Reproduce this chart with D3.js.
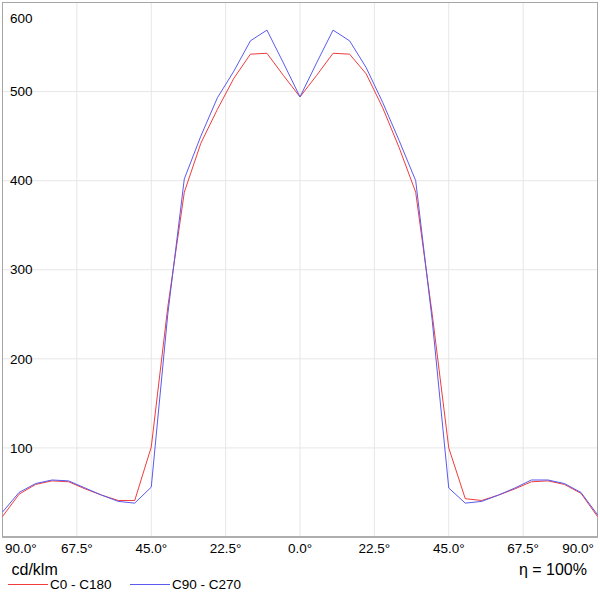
<!DOCTYPE html>
<html>
<head>
<meta charset="utf-8">
<script src="https://cdn.jsdelivr.net/npm/d3@7"></script>
<style>
  html, body { margin: 0; padding: 0; background: #fff; }
  svg { display: block; font-family: "Liberation Sans", Arial, sans-serif; }
</style>
</head>
<body>
<svg id="chart" width="600" height="600"></svg>
<script>
// Angles as displayed from left (90° side) to right (90° side)
const angles = [-90,-85,-80,-75,-70,-65,-60,-55,-50,-45,-40,-35,-30,-25,-20,-15,-10,-5,0,5,10,15,20,25,30,35,40,45,50,55,60,65,70,75,80,85,90];
const c0c180 = [23,48,59,63,62,54,47,41,41,101,258,387,442,480,515,542,543,518,494,518,543,542,520,482,437,387,250,100,43,41,47,54,62,63,59,49,23];
const c90c270 = [28,50,60,64,63,55,47,40,38,56,250,402,450,493,523,557,569,532,494,532,569,557,527,488,445,400,243,55,38,40,47,55,64,64,60,50,25];
const xTicks = [-90,-67.5,-45,-22.5,0,22.5,45,67.5,90];
const xTickLabels = ["90.0°","67.5°","45.0°","22.5°","0.0°","22.5°","45.0°","67.5°","90.0°"];
const yTicks = [100,200,300,400,500,600];
const yTickLabels = ["100","200","300","400","500","600"];
const seriesNames = ["C0 - C180","C90 - C270"];
const unitLabel = "cd/klm";
const effLabel = "η = 100%";

const svg = d3.select("#chart");
const x = d3.scaleLinear().domain([-90, 90]).range([2.5, 597.5]);
const y = d3.scaleLinear().domain([0, 600]).range([537, 2.5]);
const colors = ["#f03c3c", "#5a5af0"];

// grid
const g = svg.append("g");
g.selectAll("line.vg").data(xTicks.slice(1, -1)).enter().append("line")
  .attr("x1", d => x(d)).attr("x2", d => x(d))
  .attr("y1", y(600)).attr("y2", y(0))
  .attr("stroke", "#e6e6e6").attr("stroke-width", 1);
g.selectAll("line.hg").data(yTicks.slice(0, -1)).enter().append("line")
  .attr("x1", x(-90)).attr("x2", x(90))
  .attr("y1", d => y(d)).attr("y2", d => y(d))
  .attr("stroke", "#e6e6e6").attr("stroke-width", 1);

// frame
svg.append("rect")
  .attr("x", x(-90)).attr("y", y(600))
  .attr("width", x(90) - x(-90)).attr("height", y(0) - y(600))
  .attr("fill", "none").attr("stroke", "#a6a6a6").attr("stroke-width", 1);
svg.append("line")
  .attr("x1", x(-90)).attr("x2", x(90)).attr("y1", y(0)).attr("y2", y(0))
  .attr("stroke", "#8a8a8a").attr("stroke-width", 1.2);

// series
const line = d3.line().x((d, i) => x(angles[i])).y(d => y(d));
[c0c180, c90c270].forEach((s, k) => {
  svg.append("path").datum(s)
    .attr("d", line)
    .attr("fill", "none")
    .attr("stroke", colors[k])
    .attr("stroke-width", 1);
});

// y labels
svg.selectAll("text.yl").data(yTicks).enter().append("text")
  .attr("x", 10)
  .attr("y", d => d === 600 ? 18.5 : y(d))
  .attr("dy", "0.35em")
  .attr("font-size", "13.5px")
  .attr("fill", "#000")
  .text((d, i) => yTickLabels[i]);

// x labels
svg.selectAll("text.xl").data(xTicks).enter().append("text")
  .attr("x", (d, i) => i === 0 ? 5 : (i === xTicks.length - 1 ? 594 : x(d)))
  .attr("y", 553)
  .attr("text-anchor", (d, i) => i === 0 ? "start" : (i === xTicks.length - 1 ? "end" : "middle"))
  .attr("font-size", "13.5px")
  .attr("fill", "#000")
  .text((d, i) => xTickLabels[i]);

// unit & efficiency
svg.append("text").attr("x", 11.5).attr("y", 575)
  .attr("font-size", "16px").attr("fill", "#000").text(unitLabel);
svg.append("text").attr("x", 587).attr("y", 575).attr("text-anchor", "end")
  .attr("font-size", "16px").attr("fill", "#000").text(effLabel);

// legend
const legX = [8, 130];
seriesNames.forEach((n, k) => {
  svg.append("line")
    .attr("x1", legX[k]).attr("x2", legX[k] + 40)
    .attr("y1", 584.5).attr("y2", 584.5)
    .attr("stroke", colors[k]).attr("stroke-width", 1);
  svg.append("text")
    .attr("x", legX[k] + 42).attr("y", 589)
    .attr("font-size", "13.5px").attr("fill", "#000")
    .text(n);
});
</script>
</body>
</html>
